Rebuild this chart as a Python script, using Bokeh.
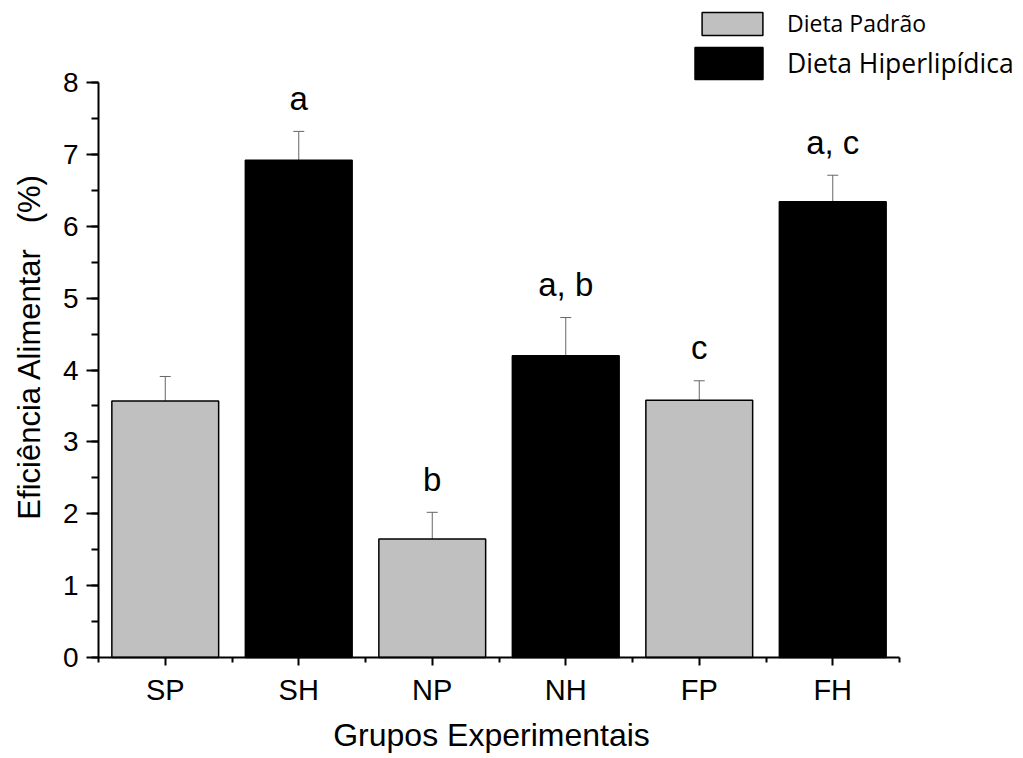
import math
from bokeh.plotting import figure
from bokeh.models import (Range1d, FixedTicker, SingleIntervalTicker, Whisker, TeeHead,
                          ColumnDataSource, Label, Legend, LegendItem)
from bokeh.core.properties import value
from bokeh.embed import file_html
from bokeh.resources import INLINE

groups = ["SP", "SH", "NP", "NH", "FP", "FH"]
diets = ["Dieta Padrão", "Dieta Hiperlipídica", "Dieta Padrão",
         "Dieta Hiperlipídica", "Dieta Padrão", "Dieta Hiperlipídica"]
means = [3.57, 6.92, 1.65, 4.20, 3.58, 6.34]
errors = [0.34, 0.40, 0.37, 0.53, 0.27, 0.37]
letters = ["", "a", "b", "a, b", "c", "a, c"]
y_max = 8

xpos = [i + 1 for i in range(len(groups))]
FONT = "Liberation Sans"

W, H = 1021, 756
X0, Y0 = 98, 657            # canvas pixel of the axes origin (x=0.5, y=0)
PX_X, PX_Y = 133.5, 71.875  # pixels per data unit

# the frame covers the whole canvas; the axes sit at fixed data locations and are bounded
p = figure(width=W, height=H, output_backend="svg", toolbar_location=None,
           title_location=None,
           x_range=Range1d(0.5 - X0 / PX_X, 0.5 + (W - X0) / PX_X),
           y_range=Range1d(-(H - Y0) / PX_Y, Y0 / PX_Y),
           min_border_left=0, min_border_right=0, min_border_top=0, min_border_bottom=0)
p.outline_line_color = None
p.grid.grid_line_color = None
p.background_fill_color = "white"
p.border_fill_color = "white"

colors = {"Dieta Padrão": "#c0c0c0", "Dieta Hiperlipídica": "#000000"}
renderers = {}
for d in ["Dieta Padrão", "Dieta Hiperlipídica"]:
    idx = [i for i, dd in enumerate(diets) if dd == d]
    src = ColumnDataSource(dict(x=[xpos[i] for i in idx], top=[means[i] for i in idx]))
    renderers[d] = p.vbar(x="x", top="top", width=0.8, bottom=0, source=src,
                          fill_color=colors[d], line_color="black", line_width=1.5)

esrc = ColumnDataSource(dict(x=xpos, lower=means,
                             upper=[m + e for m, e in zip(means, errors)],
                             txt=letters))
p.add_layout(Whisker(base="x", lower="lower", upper="upper", source=esrc,
                     dimension="height", line_color="#666666", line_width=1,
                     upper_head=TeeHead(size=11, line_color="#666666", line_width=1),
                     lower_head=None))
p.text(x="x", y="upper", text="txt", source=esrc, y_offset=-33,
       text_align="center", text_baseline="middle",
       text_font=value(FONT), text_font_size="33px", text_color="black")

# axes
xa = p.xaxis[0]
xa.ticker = FixedTicker(ticks=xpos, minor_ticks=[x - 0.5 for x in xpos] + [xpos[-1] + 0.5])
xa.major_label_overrides = {x: g for x, g in zip(xpos, groups)}
xa.bounds = (0.5, len(groups) + 0.5)
xa.fixed_location = 0
ya = p.yaxis[0]
ya.ticker = SingleIntervalTicker(interval=1, num_minor_ticks=2)
ya.bounds = (0, y_max)
ya.fixed_location = 0.5
for ax in (xa, ya):
    ax.axis_line_width = 2
    ax.axis_line_color = "black"
    ax.major_tick_line_width = 2
    ax.minor_tick_line_width = 2
    ax.major_tick_in = 0
    ax.minor_tick_in = 0
    ax.major_label_text_font = FONT
    ax.major_label_text_color = "black"
xa.major_label_text_font_size = "29px"
ya.major_label_text_font_size = "28px"
xa.major_tick_out = 8
xa.minor_tick_out = 5
xa.major_label_standoff = 8
ya.major_tick_out = 12
ya.minor_tick_out = 7
ya.major_label_standoff = 8

# axis titles (screen units, measured from the canvas bottom-left)
p.add_layout(Label(x=491, y=H - 734, x_units="screen", y_units="screen",
                   text="Grupos Experimentais", text_font=FONT, text_font_size="32px",
                   text_align="center", text_baseline="middle", text_color="black"))
p.add_layout(Label(x=29, y=H - 346, x_units="screen", y_units="screen",
                   text="Eficiência Alimentar\u00a0\u00a0\u00a0(%)", angle=math.pi / 2,
                   text_font=FONT, text_font_size="31px",
                   text_align="center", text_baseline="middle", text_color="black"))

leg1 = Legend(items=[LegendItem(label="Dieta Padrão", renderers=[renderers["Dieta Padrão"]])],
              location=(694, H - 39), glyph_width=76, glyph_height=29, label_height=29,
              padding=0, margin=0, label_standoff=17,
              label_text_font="Open Sans", label_text_font_size="23px",
              label_text_color="black",
              border_line_alpha=0, background_fill_alpha=0)
leg2 = Legend(items=[LegendItem(label="Dieta Hiperlipídica", renderers=[renderers["Dieta Hiperlipídica"]])],
              location=(686, H - 83), glyph_width=85, glyph_height=40, label_height=40,
              padding=0, margin=0, label_standoff=16,
              label_text_font="Open Sans", label_text_font_size="26.5px",
              label_text_color="black",
              border_line_alpha=0, background_fill_alpha=0)
p.add_layout(leg1)
p.add_layout(leg2)

open("out.html", "w").write(file_html(p, INLINE))
